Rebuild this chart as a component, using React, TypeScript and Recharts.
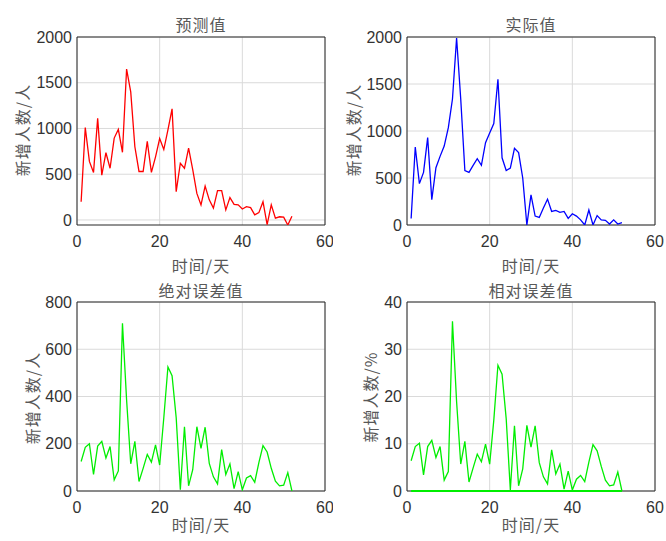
import { LineChart, Line, XAxis, YAxis, CartesianGrid, ReferenceArea, ReferenceLine } from 'recharts'

const days = [1, 2, 3, 4, 5, 6, 7, 8, 9, 10, 11, 12, 13, 14, 15, 16, 17, 18, 19, 20, 21, 22, 23, 24, 25, 26,
  27, 28, 29, 30, 31, 32, 33, 34, 35, 36, 37, 38, 39, 40, 41, 42, 43, 44, 45, 46, 47, 48, 49, 50, 51, 52]

const predicted = [200, 1010, 640, 520, 1110, 490, 735, 565, 895, 990, 740, 1650, 1400, 800, 530, 530, 860, 520,
  690, 890, 770, 985, 1215, 310, 620, 565, 785, 550, 290, 165, 370, 220, 130, 320, 320, 110, 245, 170, 165, 120,
  145, 135, 55, 80, 200, -50, 165, 20, 35, 30, -55, 40]

const actual = [70, 830, 440, 560, 930, 270, 610, 730, 840, 1035, 1340, 1990, 1340, 580, 560, 635, 705, 635,
  875, 980, 1080, 1550, 715, 580, 605, 815, 770, 500, 0, 320, 95, 80, 180, 275, 145, 155, 135, 145, 70, 120, 95,
  55, 0, 160, 0, 100, 55, 50, 10, 55, 10, 25]

const absError = [125, 185, 200, 70, 190, 210, 140, 188, 47, 85, 710, 385, 115, 210, 40, 96, 155, 122, 195, 110,
  310, 525, 488, 310, 5, 272, 22, 90, 272, 180, 270, 117, 60, 30, 175, 70, 115, 10, 82, 5, 55, 65, 37, 120, 192,
  165, 96, 42, 22, 25, 78, 0]

const relError = [6.4, 9.4, 10.1, 3.4, 9.4, 10.7, 7.1, 9.4, 2.3, 4.1, 35.9, 18.9, 5.7, 10.5, 1.9, 4.9, 7.8, 6.2,
  9.9, 5.7, 15, 26.6, 24.7, 15.3, 0.2, 13.8, 1.1, 4.7, 13.9, 9.3, 13.8, 6, 3, 1.5, 8.7, 3.6, 5.7, 0.4, 4.2, 0.2,
  2.5, 3.3, 2, 6.1, 9.8, 8.5, 5.2, 2.3, 1.1, 1.3, 4, 0]

const xTicks = [0, 20, 40, 60]
const countTicks = [0, 500, 1000, 1500, 2000]
const absTicks = [0, 200, 400, 600, 800]
const relTicks = [0, 10, 20, 30, 40]

const tickFont = { fontSize: 16, fill: '#333333', fontFamily: '"Liberation Sans", Arial, sans-serif' }
const cjk = '"Noto Sans CJK SC", sans-serif'

interface PanelProps {
  left: number
  top: number
  margin: { top: number; right: number; bottom: number; left: number }
  values: number[]
  color: string
  domain: [number, number]
  ticks: number[]
  zeroLine?: boolean
}

function Panel({ left, top, margin, values, color, domain, ticks, zeroLine }: PanelProps) {
  const data = days.map((d, i) => ({ day: d, v: values[i] }))
  return (
    <div style={{ position: 'absolute', left, top }}>
      <LineChart width={333} height={270} data={data} margin={margin}>
        <CartesianGrid stroke="#dadada" strokeWidth={1} horizontalValues={ticks} verticalValues={xTicks} />
        <XAxis dataKey="day" type="number" domain={[0, 60]} ticks={xTicks} axisLine={false} tickLine={false}
          tickSize={6} tickMargin={5} height={30} tick={tickFont} interval={0} />
        <YAxis type="number" domain={domain} ticks={ticks} allowDataOverflow axisLine={false} tickLine={false}
          tickSize={3} tickMargin={2} width={40} tick={tickFont} interval={0} />
        {zeroLine && (
          <ReferenceLine segment={[{ x: 1, y: 0 }, { x: 52, y: 0 }]} stroke={color} strokeWidth={2} />
        )}
        <Line type="linear" dataKey="v" stroke={color} strokeWidth={1.3} dot={false} isAnimationActive={false} />
        <ReferenceArea x1={0} x2={60} y1={domain[0]} y2={domain[1]} fill="none" stroke="#262626" strokeWidth={1}
          fillOpacity={0} ifOverflow="visible" />
      </LineChart>
    </div>
  )
}

function Text({ x, y, children, rotate }: { x: number; y: number; children: string; rotate?: boolean }) {
  return (
    <div style={{
      position: 'absolute', left: x, top: y, whiteSpace: 'nowrap', fontFamily: cjk, fontSize: 16,
      color: '#585858', lineHeight: 1, letterSpacing: 1,
      transform: `translate(-50%, -50%)${rotate ? ' rotate(-90deg)' : ''}`,
    }}>{children}</div>
  )
}

export default function App() {
  return (
    <div style={{ position: 'absolute', left: 0, top: 0, width: 666, height: 541, background: '#fff' }}>
      <Panel left={0} top={0} margin={{ top: 37, right: 8, bottom: 15, left: 37 }} values={predicted}
        color="#ff0000" domain={[-55, 2000]} ticks={countTicks} />
      <Panel left={333} top={0} margin={{ top: 37, right: 11, bottom: 15, left: 34 }} values={actual}
        color="#0000ff" domain={[0, 2000]} ticks={countTicks} />
      <Panel left={0} top={270} margin={{ top: 32, right: 8, bottom: 19, left: 37 }} values={absError}
        color="#00ee00" domain={[0, 800]} ticks={absTicks} />
      <Panel left={333} top={270} margin={{ top: 32, right: 11, bottom: 19, left: 34 }} values={relError}
        color="#00ee00" domain={[0, 40]} ticks={relTicks} zeroLine />

      <Text x={201} y={24}>预测值</Text>
      <Text x={531} y={24}>实际值</Text>
      <Text x={201} y={290}>绝对误差值</Text>
      <Text x={531} y={290}>相对误差值</Text>

      <Text x={201} y={265}>时间/天</Text>
      <Text x={531} y={265}>时间/天</Text>
      <Text x={201} y={524}>时间/天</Text>
      <Text x={531} y={524}>时间/天</Text>

      <Text x={22} y={130} rotate>新增人数/人</Text>
      <Text x={353} y={130} rotate>新增人数/人</Text>
      <Text x={32} y={398} rotate>新增人数/人</Text>
      <Text x={370} y={397} rotate>新增人数/%</Text>
    </div>
  )
}
